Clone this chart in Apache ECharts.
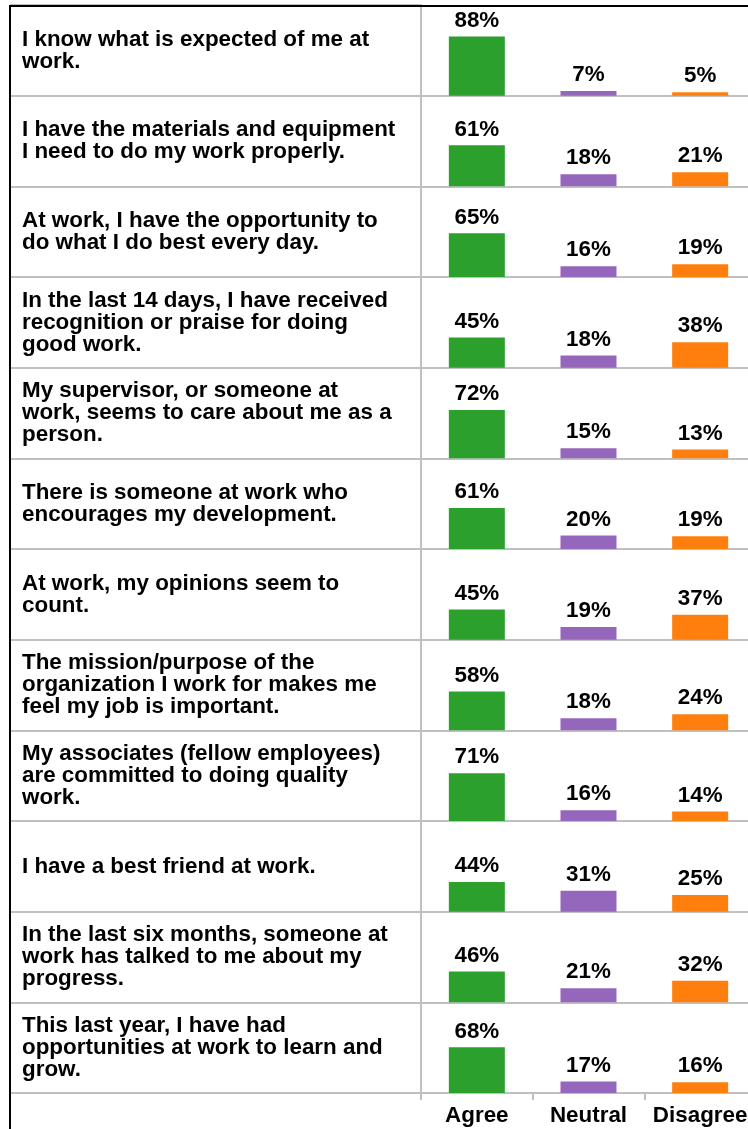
<!DOCTYPE html>
<html>
<head>
<meta charset="utf-8">
<script src="https://cdn.jsdelivr.net/npm/echarts@6/dist/echarts.min.js"></script>
<style>
html, body { margin: 0; padding: 0; background: #fff; overflow: hidden; }
#wrap { width: 748px; height: 1129px; overflow: hidden; }
/* the drawing runs a little past the right edge; the wrapper crops it */
#chart { width: 756px; height: 1129px; }
</style>
</head>
<body>
<div id="wrap"><div id="chart"></div></div>
<script>
// Survey statements (line breaks as laid out in the table)
const questions = [
  'I know what is expected of me at\nwork.',
  'I have the materials and equipment\nI need to do my work properly.',
  'At work, I have the opportunity to\ndo what I do best every day.',
  'In the last 14 days, I have received\nrecognition or praise for doing\ngood work.',
  'My supervisor, or someone at\nwork, seems to care about me as a\nperson.',
  'There is someone at work who\nencourages my development.',
  'At work, my opinions seem to\ncount.',
  'The mission/purpose of the\norganization I work for makes me\nfeel my job is important.',
  'My associates (fellow employees)\nare committed to doing quality\nwork.',
  'I have a best friend at work.',
  'In the last six months, someone at\nwork has talked to me about my\nprogress.',
  'This last year, I have had\nopportunities at work to learn and\ngrow.'
];
const responses = ['Agree', 'Neutral', 'Disagree'];
// Share of respondents (%) per statement
const agree    = [88, 61, 65, 45, 72, 61, 45, 58, 71, 44, 46, 68];
const neutral  = [ 7, 18, 16, 18, 15, 20, 19, 18, 16, 31, 21, 17];
const disagree = [ 5, 21, 19, 38, 13, 19, 37, 24, 14, 25, 32, 16];

const responseColors = ['#2ca02c', '#9467bd', '#ff7f0e'];

const W = 756, H = 1129;
const tableLeft = 10, tableTop = 5, splitX = 421;
const rowCount = questions.length;
const rowH = 1088 / rowCount;
const font = '"Liberation Sans", Arial, Helvetica, sans-serif';
const ruleColor = '#c0c0c0';
const textStyle = { fontSize: 22.4, fontWeight: 'bold', color: '#000', fontFamily: font };

const grid = [], xAxis = [], yAxis = [], series = [];

// Left column: the statements, one category per row, split lines between rows
grid.push({ left: tableLeft, top: tableTop, width: splitX - tableLeft, height: rowH * rowCount });
xAxis.push({ type: 'value', gridIndex: 0, show: false, min: 0, max: 1 });
yAxis.push({
  type: 'category', gridIndex: 0, inverse: true, data: questions,
  axisLine: { show: false }, axisTick: { show: false },
  splitLine: { show: true, lineStyle: { color: ruleColor, width: 2 } },
  axisLabel: Object.assign({ inside: true, margin: 12, lineHeight: 22, align: 'left' }, textStyle)
});

// Right column: a small bar panel per statement
for (let i = 0; i < rowCount; i++) {
  const last = i === rowCount - 1;
  const g = i + 1;
  grid.push({ left: splitX, right: 0, top: tableTop + i * rowH, height: rowH });
  xAxis.push({
    type: 'category', gridIndex: g, data: responses,
    axisLine: { lineStyle: { color: ruleColor, width: 2 } },
    axisTick: { show: last, length: 7, lineStyle: { color: ruleColor, width: 2 } },
    axisLabel: Object.assign({ show: last, interval: 0, hideOverlap: false, margin: 12 }, textStyle)
  });
  yAxis.push({
    type: 'value', gridIndex: g, min: 0, max: 135,
    axisLine: { show: true, lineStyle: { color: ruleColor, width: 2 } },
    axisTick: { show: false }, axisLabel: { show: false }, splitLine: { show: false }
  });
  const values = [agree[i], neutral[i], disagree[i]];
  series.push({
    type: 'bar', xAxisIndex: g, yAxisIndex: g, barWidth: 56,
    data: values.map((v, k) => ({ value: v, itemStyle: { color: responseColors[k] } })),
    label: Object.assign({ show: true, position: 'top', distance: 5, formatter: '{c}%' }, textStyle)
  });
}

const chart = echarts.init(document.getElementById('chart'), null, { renderer: 'canvas' });
chart.setOption({
  animation: false,
  backgroundColor: '#fff',
  grid, xAxis, yAxis, series,
  graphic: [{
    type: 'polyline', z: 100,
    shape: { points: [[tableLeft, H], [tableLeft, tableTop + 1], [W, tableTop + 1]] },
    style: { stroke: '#000', lineWidth: 2, fill: null }
  }]
});
</script>
</body>
</html>
